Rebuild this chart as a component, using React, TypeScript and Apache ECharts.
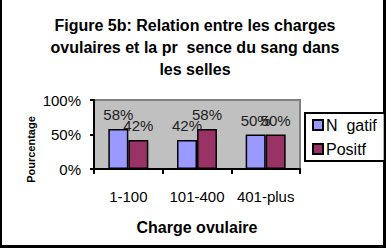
import React, { useEffect, useRef } from "react";
import * as echarts from "echarts";

const categories = ["1-100", "101-400", "401-plus"];
const negatif = [58, 42, 50];
const positif = [42, 58, 50];
const yTicks = [0, 50, 100];
const titleText = "Figure 5b: Relation entre les charges\novulaires et la pr  sence du sang dans\nles selles";
const legendNames = ["N  gatif", "Positf"];

const FONT = "Liberation Sans, Arial, sans-serif";

export default function App() {
  const ref = useRef<HTMLDivElement>(null);
  useEffect(() => {
    if (!ref.current) return;
    const chart = echarts.init(ref.current, null, { renderer: "svg" });
    const label = {
      show: true,
      position: "top",
      distance: 7,
      formatter: "{c}%",
      fontFamily: FONT,
      fontSize: 15,
      color: "#222",
    };
    chart.setOption({
      animation: false,
      backgroundColor: "#ffffff",
      textStyle: { fontFamily: FONT },
      title: {
        text: titleText,
        left: 190,
        textAlign: "center",
        top: 9,
        textStyle: { fontFamily: FONT, fontSize: 16, fontWeight: "bold", color: "#000", lineHeight: 22 },
      },
      legend: {
        orient: "vertical",
        left: 305,
        top: 113,
        width: 77,
        padding: [4, 8, 4, 7],
        itemGap: 8,
        itemWidth: 10,
        itemHeight: 10,
        backgroundColor: "#fff",
        borderColor: "#000",
        borderWidth: 2,
        icon: "rect",
        data: legendNames,
        textStyle: { fontFamily: FONT, fontSize: 16, color: "#000", padding: [0, 0, 0, -2] },
      },
      grid: {
        left: 94,
        top: 100,
        width: 206,
        height: 69,
        show: true,
        backgroundColor: "#c0c0c0",
        borderColor: "#808080",
        borderWidth: 2,
        containLabel: false,
      },
      xAxis: {
        type: "category",
        data: categories,
        name: "Charge ovulaire",
        nameLocation: "middle",
        nameGap: 50,
        nameMoveOverlap: false,
        nameTextStyle: { fontFamily: FONT, fontSize: 16, fontWeight: "bold", color: "#000" },
        axisLine: { lineStyle: { color: "#000", width: 2 } },
        axisTick: { show: true, length: 5, lineStyle: { color: "#000", width: 2 } },
        axisLabel: { interval: 0, margin: 20, fontFamily: FONT, fontSize: 15, color: "#000" },
      },
      yAxis: {
        type: "value",
        min: 0,
        max: 100,
        interval: 50,
        name: "Pourcentage",
        nameLocation: "middle",
        nameGap: 58,
        nameMoveOverlap: false,
        nameTextStyle: { fontFamily: FONT, fontSize: 11, fontWeight: "bold", color: "#000", padding: [0, 30, 0, 0] },
        axisLine: { show: true, lineStyle: { color: "#000", width: 2 } },
        axisTick: { show: true, length: 4, lineStyle: { color: "#000", width: 2 } },
        axisLabel: {
          margin: 13,
          fontFamily: FONT,
          fontSize: 15,
          color: "#000",
          formatter: (v: number) => (yTicks.includes(v) ? v + "%" : ""),
        },
        splitLine: { show: false },
      },
      series: [
        {
          name: legendNames[0],
          type: "bar",
          data: negatif,
          barWidth: 20,
          barGap: "0%",
          itemStyle: { color: "#9999ff", borderColor: "#000", borderWidth: 1.5 },
          label,
        },
        {
          name: legendNames[1],
          type: "bar",
          data: positif,
          barWidth: 20,
          barGap: "0%",
          itemStyle: { color: "#993366", borderColor: "#000", borderWidth: 1.5 },
          label,
        },
      ],
      graphic: [
        { type: "rect", shape: { x: 0, y: 0, width: 2, height: 248 }, style: { fill: "#000" } },
        { type: "rect", shape: { x: 383, y: 0, width: 3, height: 248 }, style: { fill: "#000" } },
        { type: "rect", shape: { x: 0, y: 245, width: 386, height: 3 }, style: { fill: "#000" } },
      ],
    });
    return () => chart.dispose();
  }, []);
  return (
    <div
      ref={ref}
      style={{ position: "fixed", left: 0, top: 0, width: 386, height: 248 }}
    />
  );
}
